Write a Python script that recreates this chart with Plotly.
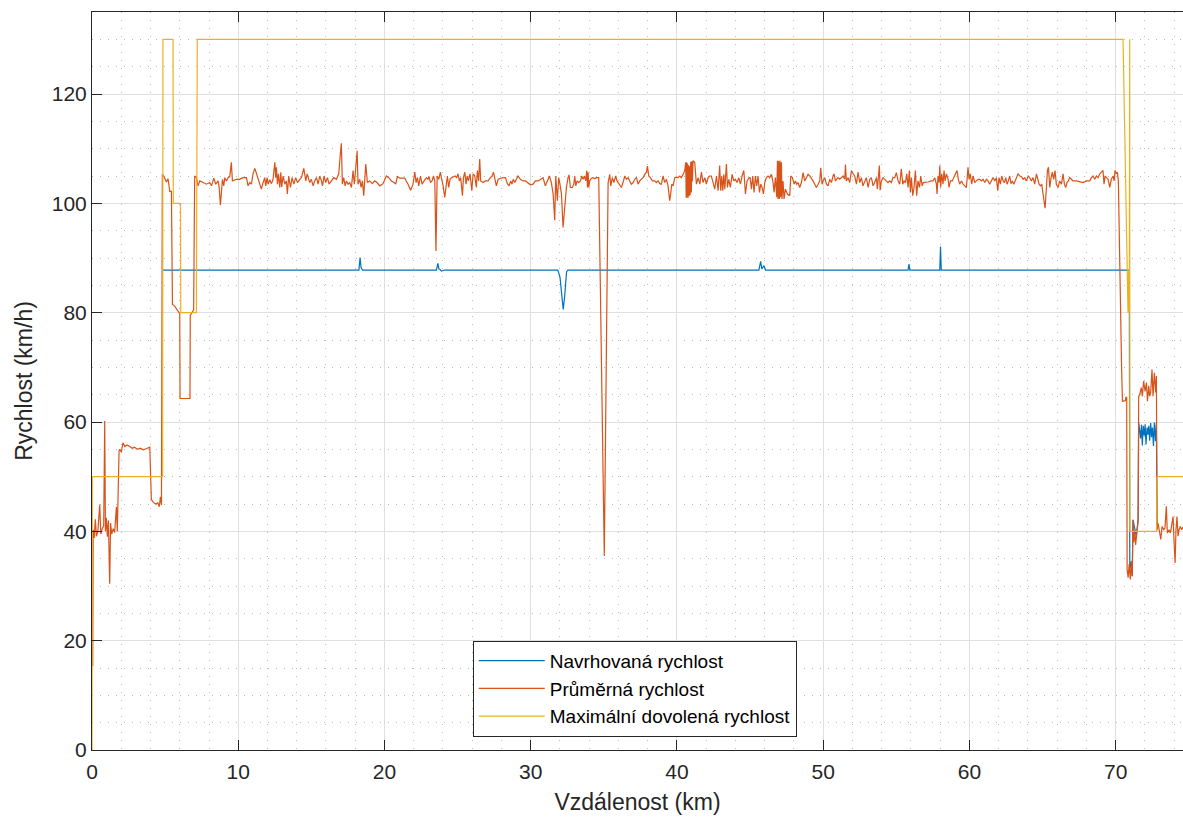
import plotly.graph_objects as go

# ---------------- data ----------------
# Navrhovaná rychlost (designed speed): (km, km/h)
designed_pts = [
    (4.84, 87.8), (18.25, 87.8), (18.33, 90.1), (18.40, 88.2), (18.50, 87.8),
    (23.55, 87.8), (23.65, 89.0), (23.72, 88.0), (23.80, 87.9), (23.90, 87.6), (24.10, 87.8),
    (31.85, 87.8), (32.00, 86.5), (32.10, 84.0), (32.22, 80.6), (32.32, 83.0), (32.45, 87.5), (32.55, 87.8),
    (45.60, 87.8), (45.72, 89.4), (45.80, 88.0), (45.95, 88.6), (46.05, 87.8),
    (55.80, 87.8), (55.86, 88.9), (55.92, 87.8),
    (57.97, 87.8), (58.02, 92.1), (58.07, 87.8),
    (70.93, 87.8), (70.96, 33.0), (71.07, 34.5), (71.13, 31.8), (71.18, 42.1), (71.30, 40.3),
    (71.41, 39.1), (71.53, 42.0), (71.57, 59.9), (71.64, 58.5), (71.70, 57.0), (71.76, 59.5),
    (71.82, 55.7), (71.88, 59.3), (71.95, 57.5), (72.01, 59.6), (72.07, 55.9), (72.14, 59.0),
    (72.20, 57.7), (72.26, 59.3), (72.32, 56.6), (72.39, 59.8), (72.45, 57.2), (72.51, 59.0),
    (72.58, 55.6), (72.64, 59.9), (72.72, 56.5), (72.78, 59.9), (72.83, 40.3),
]

# Průměrná rychlost (average speed): (km, km/h)
average_pts = [
    (0.05, 15.3), (0.08, 40.3), (0.15, 38.8), (0.23, 42.2), (0.30, 39.1), (0.40, 40.0),
    (0.53, 44.9), (0.60, 39.5), (0.70, 40.5), (0.80, 41.0), (0.87, 60.2), (0.92, 40.0),
    (0.98, 42.5), (1.05, 39.0), (1.12, 42.0), (1.21, 30.4), (1.27, 41.5), (1.35, 39.5),
    (1.45, 40.5), (1.55, 39.8), (1.67, 44.5), (1.73, 40.0), (1.85, 54.7), (1.90, 55.0),
    (2.00, 54.5), (2.12, 56.2), (2.25, 55.5), (2.40, 55.8), (2.58, 55.5), (2.75, 55.2),
    (2.90, 55.4), (3.10, 55.0), (3.30, 55.2), (3.50, 54.9), (3.70, 55.1), (3.95, 55.4),
    (4.06, 45.8), (4.20, 45.3), (4.35, 45.0), (4.50, 45.2), (4.60, 44.5), (4.68, 46.3),
    (4.75, 44.8), (4.81, 105.3), (4.90, 105.0), (5.00, 104.2), (5.09, 103.9), (5.20, 104.5),
    (5.32, 102.2), (5.43, 102.2), (5.50, 81.5), (5.65, 81.2), (5.75, 80.8), (5.90, 80.0),
    (6.00, 79.8), (6.02, 64.3), (6.70, 64.3), (6.72, 79.5), (6.95, 80.5), (7.02, 105.0),
    (7.14, 104.7), (7.25, 103.2), (7.37, 104.1), (7.60, 103.8), (7.82, 103.5), (8.05, 103.8),
    (8.17, 103.2), (8.33, 104.6), (8.46, 103.5), (8.62, 104.1), (8.69, 103.0), (8.78, 99.7),
    (8.85, 102.9), (8.92, 104.4), (9.01, 103.2), (9.08, 104.7), (9.19, 104.1), (9.31, 104.7),
    (9.42, 104.9), (9.53, 107.5), (9.60, 104.1), (9.88, 104.4), (10.10, 104.4), (10.33, 104.7),
    (10.56, 104.7), (10.67, 103.2), (10.79, 103.8), (10.90, 103.5), (11.01, 105.4), (11.13, 106.4),
    (11.24, 105.5), (11.36, 104.4), (11.47, 103.5), (11.58, 102.6), (11.70, 103.8), (11.81, 104.7),
    (11.88, 103.2), (11.97, 104.7), (12.04, 103.5), (12.15, 104.3), (12.27, 103.6), (12.38, 104.4),
    (12.50, 107.5), (12.56, 104.7), (12.61, 106.6), (12.68, 103.5), (12.75, 105.4), (12.84, 102.9),
    (12.91, 105.7), (12.97, 103.0), (13.07, 105.0), (13.18, 103.5), (13.29, 104.1), (13.36, 101.7),
    (13.45, 105.0), (13.57, 102.9), (13.68, 104.7), (13.80, 103.5), (13.93, 104.7), (14.05, 103.8),
    (14.21, 104.4), (14.32, 104.7), (14.48, 106.4), (14.62, 104.1), (14.71, 105.4), (14.80, 104.7),
    (14.89, 103.8), (15.00, 104.4), (15.12, 103.2), (15.23, 104.1), (15.35, 104.7), (15.46, 103.5),
    (15.57, 105.0), (15.69, 104.1), (15.76, 103.2), (15.87, 105.0), (15.98, 103.8), (16.10, 104.7),
    (16.21, 103.5), (16.37, 104.1), (16.53, 104.7), (16.71, 104.4), (16.87, 105.4), (16.99, 109.3),
    (17.05, 111.0), (17.12, 103.5), (17.21, 104.7), (17.31, 103.2), (17.40, 104.1), (17.51, 103.5),
    (17.62, 103.8), (17.74, 102.9), (17.85, 106.0), (17.94, 103.5), (18.03, 106.0), (18.13, 109.6),
    (18.19, 103.5), (18.31, 104.4), (18.40, 102.9), (18.49, 104.1), (18.58, 101.4), (18.65, 104.7),
    (18.72, 107.2), (18.83, 103.8), (18.99, 104.1), (19.17, 103.6), (19.33, 104.1), (19.49, 103.8),
    (19.68, 103.2), (19.90, 103.6), (20.13, 105.0), (20.29, 104.7), (20.47, 104.1), (20.66, 103.8),
    (20.77, 103.5), (20.88, 104.9), (21.04, 104.6), (21.38, 104.6), (21.50, 104.1), (21.61, 103.5),
    (21.79, 102.4), (21.95, 103.5), (22.07, 105.7), (22.16, 103.8), (22.25, 104.7), (22.34, 103.2),
    (22.46, 105.0), (22.57, 103.5), (22.71, 104.1), (22.87, 104.7), (22.98, 104.4), (23.05, 104.9),
    (23.14, 103.8), (23.25, 104.1), (23.35, 105.0), (23.44, 104.1), (23.52, 91.3), (23.60, 105.0),
    (23.71, 104.4), (23.82, 105.7), (23.89, 104.7), (24.01, 103.2), (24.12, 101.1), (24.21, 103.2),
    (24.30, 105.0), (24.39, 102.9), (24.48, 104.4), (24.58, 104.7), (24.71, 104.9), (24.83, 105.0),
    (24.94, 104.7), (25.03, 105.4), (25.12, 104.1), (25.21, 104.7), (25.33, 101.4), (25.40, 104.7),
    (25.49, 105.7), (25.58, 103.5), (25.65, 105.0), (25.74, 104.1), (25.85, 105.4), (25.97, 102.3),
    (26.06, 105.4), (26.17, 105.0), (26.28, 102.9), (26.35, 106.0), (26.44, 104.1), (26.51, 108.1),
    (26.58, 104.1), (26.74, 103.8), (26.90, 104.1), (27.08, 104.1), (27.24, 104.7), (27.36, 105.0),
    (27.45, 105.7), (27.54, 104.4), (27.65, 103.2), (27.77, 104.4), (27.95, 104.6), (28.11, 104.7),
    (28.27, 104.7), (28.40, 103.6), (28.52, 103.2), (28.63, 104.1), (28.72, 103.5), (28.81, 104.4),
    (28.91, 103.8), (29.02, 104.4), (29.13, 105.0), (29.29, 104.4), (29.48, 104.1), (29.64, 104.1),
    (29.82, 103.8), (29.98, 103.4), (30.16, 103.5), (30.32, 104.1), (30.50, 104.1), (30.66, 104.4),
    (30.84, 104.7), (31.00, 103.2), (31.14, 104.1), (31.28, 105.0), (31.41, 103.8), (31.53, 101.7),
    (31.64, 96.9), (31.71, 105.0), (31.82, 100.5), (31.91, 104.7), (31.98, 103.8), (32.10, 101.7),
    (32.21, 95.6), (32.33, 100.5), (32.44, 102.9), (32.55, 104.7), (32.62, 105.2), (32.71, 102.9),
    (32.85, 102.9), (32.94, 103.5), (33.01, 105.0), (33.08, 103.2), (33.17, 104.1), (33.28, 103.8),
    (33.40, 104.1), (33.49, 105.0), (33.58, 104.4), (33.67, 105.0), (33.76, 104.1), (33.83, 106.0),
    (33.88, 102.9), (33.92, 105.7), (33.97, 102.9), (34.03, 104.1), (34.15, 104.6), (34.26, 104.7),
    (34.38, 104.5), (34.49, 104.7), (34.65, 104.7), (35.03, 35.5), (35.27, 103.5), (35.29, 103.8),
    (35.36, 104.7), (35.40, 105.3), (35.47, 103.2), (35.58, 104.7), (35.68, 103.8), (35.81, 105.0),
    (35.90, 104.1), (36.04, 103.5), (36.20, 102.9), (36.31, 103.8), (36.43, 105.0), (36.54, 104.4),
    (36.66, 104.7), (36.77, 104.1), (36.88, 103.5), (37.00, 103.8), (37.11, 104.4), (37.23, 104.7),
    (37.34, 103.5), (37.45, 104.1), (37.57, 104.4), (37.68, 104.7), (37.80, 105.3), (37.91, 105.7),
    (37.98, 106.8), (38.07, 105.0), (38.18, 104.7), (38.32, 104.1), (38.48, 104.1), (38.59, 103.8),
    (38.71, 104.1), (38.82, 103.6), (38.93, 103.5), (39.05, 105.0), (39.16, 103.8), (39.28, 104.4),
    (39.39, 103.2), (39.50, 100.5), (39.57, 101.7), (39.64, 103.5), (39.73, 103.2), (39.85, 104.7),
    (39.96, 104.8), (40.07, 104.7), (40.19, 105.0), (40.30, 104.7), (40.42, 105.3), (40.53, 106.0),
    (40.60, 107.5), (40.63, 101.0), (40.66, 107.5), (40.69, 101.2), (40.72, 107.3), (40.75, 101.0),
    (40.78, 107.0), (40.82, 101.3), (40.86, 106.8), (40.90, 101.5), (40.94, 107.6), (40.98, 102.0),
    (41.02, 107.7), (41.05, 104.0), (41.10, 107.8), (41.21, 107.5), (41.33, 103.5), (41.44, 104.7),
    (41.56, 103.5), (41.67, 105.7), (41.78, 103.8), (41.90, 104.7), (42.01, 103.5), (42.13, 104.7),
    (42.24, 105.0), (42.35, 105.0), (42.47, 103.8), (42.58, 102.6), (42.70, 105.0), (42.81, 102.3),
    (42.92, 106.9), (42.99, 102.3), (43.06, 105.0), (43.13, 102.3), (43.20, 105.3), (43.27, 102.6),
    (43.38, 107.2), (43.45, 102.9), (43.54, 104.4), (43.65, 102.9), (43.77, 105.3), (43.88, 104.1),
    (43.99, 104.4), (44.11, 103.8), (44.22, 104.7), (44.34, 103.5), (44.45, 105.0), (44.57, 106.0),
    (44.68, 101.7), (44.79, 104.1), (44.93, 104.7), (45.00, 104.7), (45.09, 102.6), (45.18, 105.0),
    (45.27, 102.0), (45.36, 105.0), (45.45, 103.2), (45.54, 105.0), (45.64, 102.0), (45.73, 103.5),
    (45.82, 102.9), (45.91, 101.7), (46.00, 103.8), (46.11, 104.7), (46.23, 105.0), (46.34, 104.7),
    (46.46, 105.3), (46.57, 103.8), (46.64, 102.0), (46.73, 104.7), (46.82, 101.1), (46.87, 107.8),
    (46.91, 100.8), (46.96, 107.8), (47.00, 100.8), (47.05, 107.8), (47.09, 101.1), (47.14, 107.5),
    (47.18, 100.8), (47.25, 104.1), (47.32, 100.8), (47.41, 102.6), (47.55, 101.7), (47.71, 101.4),
    (47.78, 105.0), (47.89, 104.7), (48.01, 103.5), (48.10, 104.1), (48.19, 103.5), (48.28, 103.8),
    (48.39, 102.9), (48.51, 103.8), (48.62, 105.6), (48.73, 104.1), (48.85, 104.7), (48.96, 105.3),
    (49.08, 105.0), (49.19, 104.4), (49.30, 104.1), (49.42, 103.5), (49.53, 102.9), (49.65, 103.5),
    (49.76, 104.1), (49.83, 106.5), (49.92, 103.5), (49.99, 104.1), (50.10, 104.7), (50.22, 103.5),
    (50.33, 103.2), (50.44, 104.4), (50.56, 103.8), (50.67, 105.0), (50.74, 105.4), (50.83, 104.1),
    (50.92, 104.4), (51.01, 104.7), (51.13, 104.4), (51.24, 104.7), (51.36, 105.0), (51.47, 104.4),
    (51.52, 107.1), (51.58, 104.1), (51.70, 104.7), (51.81, 103.8), (51.93, 106.0), (52.04, 105.4),
    (52.15, 105.0), (52.27, 103.5), (52.38, 105.7), (52.50, 103.8), (52.61, 104.7), (52.72, 103.2),
    (52.84, 104.1), (52.95, 104.7), (53.07, 102.9), (53.18, 104.4), (53.29, 104.7), (53.41, 103.2),
    (53.52, 103.8), (53.64, 104.7), (53.70, 102.6), (53.79, 104.9), (53.84, 106.9), (53.89, 102.4),
    (53.98, 104.1), (54.09, 104.7), (54.20, 104.4), (54.32, 104.1), (54.43, 103.8), (54.55, 104.1),
    (54.66, 103.8), (54.77, 104.7), (54.89, 104.7), (55.00, 105.6), (55.12, 104.1), (55.23, 103.5),
    (55.34, 106.3), (55.44, 103.5), (55.53, 104.1), (55.62, 103.8), (55.71, 105.4), (55.80, 102.9),
    (55.89, 106.0), (55.96, 102.0), (56.03, 104.7), (56.12, 101.4), (56.21, 102.9), (56.30, 106.0),
    (56.39, 101.4), (56.48, 104.1), (56.58, 102.9), (56.67, 105.0), (56.76, 103.2), (56.85, 103.8),
    (56.94, 103.8), (57.17, 103.9), (57.40, 104.1), (57.51, 104.1), (57.62, 104.7), (57.74, 103.5),
    (57.78, 101.7), (57.85, 105.0), (57.92, 103.8), (57.97, 106.9), (58.03, 102.9), (58.10, 105.4),
    (58.19, 103.5), (58.26, 106.0), (58.33, 104.1), (58.42, 105.4), (58.54, 104.4), (58.60, 102.9),
    (58.70, 104.1), (58.83, 104.1), (58.92, 104.7), (59.06, 105.4), (59.15, 106.0), (59.24, 104.4),
    (59.33, 103.5), (59.45, 104.1), (59.56, 103.5), (59.68, 103.2), (59.79, 102.9), (59.90, 106.6),
    (59.97, 104.4), (60.06, 105.4), (60.15, 103.5), (60.25, 105.0), (60.36, 103.8), (60.47, 104.1),
    (60.59, 104.4), (60.70, 104.4), (60.81, 104.1), (60.93, 104.4), (61.04, 103.8), (61.16, 104.4),
    (61.27, 104.1), (61.38, 103.5), (61.50, 104.1), (61.61, 104.7), (61.73, 104.1), (61.84, 104.7),
    (61.93, 102.3), (62.02, 104.7), (62.11, 103.5), (62.21, 105.0), (62.30, 104.1), (62.39, 103.8),
    (62.48, 104.7), (62.57, 103.5), (62.66, 104.1), (62.75, 105.0), (62.84, 103.6), (62.93, 104.1),
    (63.03, 103.5), (63.12, 104.1), (63.21, 104.4), (63.32, 105.4), (63.44, 105.0), (63.55, 104.9),
    (63.66, 104.4), (63.78, 104.7), (63.89, 104.1), (64.01, 105.0), (64.12, 104.7), (64.23, 104.1),
    (64.35, 104.7), (64.46, 103.5), (64.58, 105.4), (64.69, 104.4), (64.76, 103.5), (64.85, 103.2),
    (64.94, 103.5), (65.03, 101.7), (65.10, 99.9), (65.17, 99.1), (65.26, 102.9), (65.33, 106.0),
    (65.40, 106.6), (65.49, 102.9), (65.58, 104.7), (65.67, 105.7), (65.76, 104.4), (65.85, 106.0),
    (65.94, 103.5), (66.06, 102.9), (66.17, 104.1), (66.29, 103.5), (66.40, 105.4), (66.49, 103.5),
    (66.58, 102.9), (66.67, 103.8), (66.76, 104.1), (66.85, 104.7), (66.97, 104.4), (67.08, 104.1),
    (67.31, 104.1), (67.54, 103.9), (67.77, 103.8), (67.99, 104.1), (68.22, 104.1), (68.34, 104.7),
    (68.45, 105.0), (68.56, 104.4), (68.68, 105.0), (68.79, 104.7), (68.91, 105.4), (69.02, 105.7),
    (69.13, 106.0), (69.20, 103.5), (69.27, 105.0), (69.36, 104.7), (69.48, 104.4), (69.59, 102.9),
    (69.70, 104.4), (69.82, 105.0), (69.89, 104.1), (69.95, 106.0), (70.05, 105.4), (70.11, 105.7),
    (70.18, 104.1), (70.40, 70.0), (70.46, 63.8), (70.66, 63.9), (70.70, 64.6), (70.75, 64.4),
    (70.78, 33.0), (70.85, 31.5), (70.92, 34.0), (71.00, 31.2), (71.07, 34.5), (71.13, 31.8),
    (71.18, 42.1), (71.24, 38.0), (71.30, 40.3), (71.36, 37.5), (71.41, 39.1), (71.47, 41.0),
    (71.53, 42.0), (71.57, 64.7), (71.64, 65.0), (71.75, 66.3), (71.82, 64.7), (71.91, 67.5),
    (72.01, 65.6), (72.10, 67.2), (72.17, 63.8), (72.26, 66.6), (72.32, 64.7), (72.39, 65.4),
    (72.48, 69.6), (72.55, 64.7), (72.64, 69.0), (72.73, 65.4), (72.78, 68.4), (72.83, 40.3),
    (72.89, 41.5), (73.01, 39.7), (73.08, 38.5), (73.17, 40.9), (73.28, 40.3), (73.37, 40.6),
    (73.46, 44.6), (73.53, 39.7), (73.65, 40.3), (73.74, 39.7), (73.83, 41.5), (73.92, 42.7),
    (73.99, 37.9), (74.06, 34.2), (74.12, 40.3), (74.19, 42.7), (74.26, 39.1), (74.33, 40.3),
    (74.42, 40.9), (74.51, 40.3), (74.60, 40.8),
]

# Maximální dovolená rychlost (speed limit): (km, km/h)
limit_pts = [
    (0.00, 0), (0.02, 50), (4.83, 50), (4.85, 130), (5.54, 130), (5.56, 100), (6.05, 100),
    (6.07, 80), (7.14, 80), (7.20, 130), (70.50, 130), (70.84, 80), (70.90, 88), (70.93, 80),
    (70.955, 130), (70.965, 40), (72.80, 40), (72.82, 50), (75.00, 50),
]

series_names = ["Navrhovaná rychlost", "Průměrná rychlost", "Maximální dovolená rychlost"]
series_colors = ["#0072BD", "#D95319", "#EDB120"]

x_title = "Vzdálenost (km)"
y_title = "Rychlost (km/h)"
x_range = [0, 74.6]
y_range = [0, 135]
x_ticks = [0, 10, 20, 30, 40, 50, 60, 70]
y_ticks = [0, 20, 40, 60, 80, 100, 120]

# ---------------- figure ----------------
FONT = "Liberation Sans, Arial, Helvetica, sans-serif"
INK = "#262626"

fig = go.Figure()
for pts, name, color in zip([designed_pts, average_pts, limit_pts], series_names, series_colors):
    xs = [p[0] for p in pts]
    ys = [p[1] for p in pts]
    fig.add_trace(go.Scatter(x=xs, y=ys, mode="lines", name=name,
                             line=dict(color=color, width=1.2)))

axis_common = dict(
    showline=True, linecolor=INK, linewidth=1,
    ticks="inside", ticklen=10, tickwidth=1, tickcolor=INK,
    showgrid=True, gridcolor="#dfdfdf", gridwidth=1,
    zeroline=False,
    tickfont=dict(family=FONT, size=21, color=INK),
)

fig.update_xaxes(
    range=x_range, tickvals=x_ticks, mirror="ticks", ticklabelstandoff=3,
    title=dict(text=x_title, font=dict(family=FONT, size=23, color=INK), standoff=11),
    minor=dict(dtick=2, showgrid=True, gridcolor="#bdbdbd", griddash="1px,7px", gridwidth=1),
    **axis_common,
)
fig.update_yaxes(
    range=y_range, tickvals=y_ticks, mirror=True,
    title=dict(text=y_title, font=dict(family=FONT, size=23, color=INK), standoff=12),
    minor=dict(dtick=5, showgrid=True, gridcolor="#bdbdbd", griddash="1px,7px", gridwidth=1),
    **axis_common,
)

fig.update_layout(
    width=1183, height=818,
    margin=dict(l=92, r=0, t=12, b=68),
    paper_bgcolor="white", plot_bgcolor="white",
    font=dict(family=FONT, color=INK),
    showlegend=True,
    legend=dict(
        x=0.349, y=0.148, xanchor="left", yanchor="top",
        bgcolor="white", bordercolor=INK, borderwidth=1,
        font=dict(family=FONT, size=19, color="#000000"),
        itemwidth=66, tracegroupgap=0,
    ),
)

fig.write_html("out.html")
